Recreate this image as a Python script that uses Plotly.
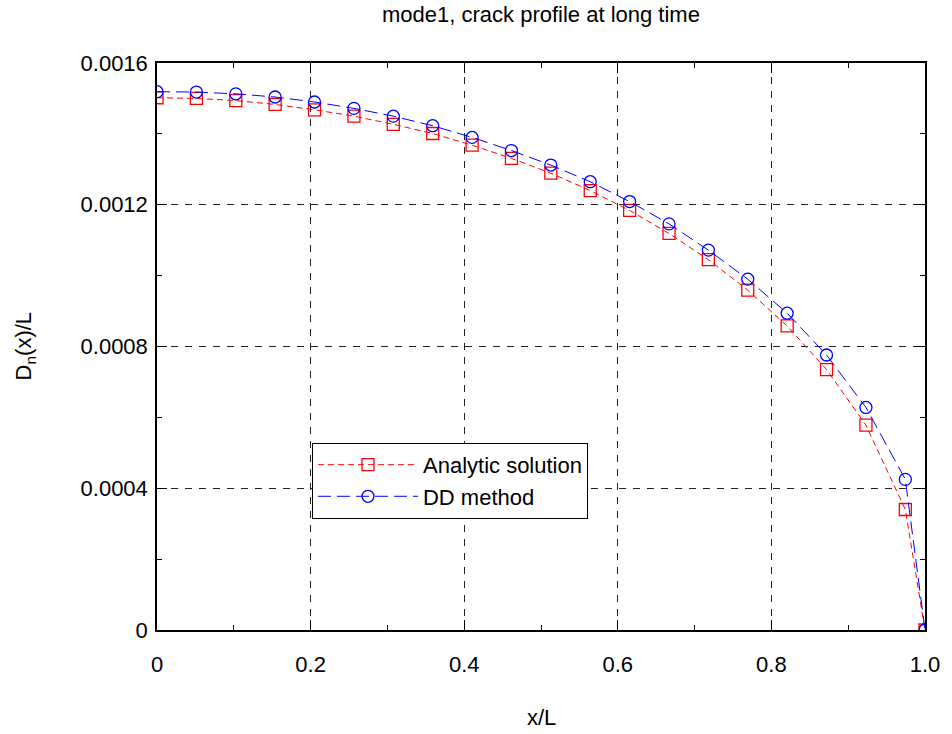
import plotly.graph_objects as go

# positions along the crack, x/L
x_over_l = [0.0, 0.0513, 0.1026, 0.1538, 0.2051, 0.2564, 0.3077, 0.3590, 0.4103,
            0.4615, 0.5128, 0.5641, 0.6154, 0.6667, 0.7179, 0.7692, 0.8205,
            0.8718, 0.9231, 0.9744, 1.0]

# opening displacement Dn(x)/L
analytic = [0.001502, 0.001500, 0.001494, 0.001483, 0.001468, 0.001450, 0.001427,
            0.001401, 0.001368, 0.001331, 0.001289, 0.001240, 0.001184, 0.001119,
            0.001045, 0.000959, 0.000858, 0.000735, 0.000578, 0.000340, 0.0]
dd_method = [0.001519, 0.001518, 0.001513, 0.001504, 0.001490, 0.001472, 0.001450,
             0.001423, 0.001390, 0.001353, 0.001312, 0.001265, 0.001209, 0.001146,
             0.001072, 0.000990, 0.000894, 0.000776, 0.000628, 0.000425, 0.0]

x_ticks = [0, 0.2, 0.4, 0.6, 0.8, 1.0]
x_labels = ["0", "0.2", "0.4", "0.6", "0.8", "1.0"]
y_ticks = [0, 0.0004, 0.0008, 0.0012, 0.0016]
y_labels = ["0", "0.0004", "0.0008", "0.0012", "0.0016"]

FONT = "Liberation Sans, Arial, sans-serif"

fig = go.Figure()

fig.add_trace(go.Scatter(
    x=x_over_l, y=analytic, mode="lines+markers", name="Analytic solution",
    line=dict(color="#ff0000", width=1, dash="6px,4px"),
    marker=dict(symbol="square-open", size=12, color="#ff0000", line=dict(width=1.3)),
))
fig.add_trace(go.Scatter(
    x=x_over_l, y=dd_method, mode="lines+markers", name="DD method",
    line=dict(color="#0000ff", width=1, dash="13px,6px"),
    marker=dict(symbol="circle-open", size=12, color="#0000ff", line=dict(width=1.3)),
))

axis_common = dict(
    showline=True, linecolor="black", linewidth=1.5, mirror="ticks",
    ticks="inside", ticklen=10, tickcolor="black", tickwidth=1,
    showgrid=True, gridcolor="#222222", gridwidth=1, griddash="7px,7px",
    zeroline=False, tickfont=dict(family=FONT, size=22, color="black"),
)

fig.update_xaxes(
    range=[0, 1], tickvals=x_ticks, ticktext=x_labels, ticklabelstandoff=14,
    minor=dict(dtick=0.1, ticks="inside", ticklen=5, tickcolor="black", showgrid=False),
    **axis_common,
)
fig.update_yaxes(
    range=[0, 0.0016], tickvals=y_ticks, ticktext=y_labels, ticklabelstandoff=3,
    minor=dict(dtick=0.0002, ticks="inside", ticklen=5, tickcolor="black", showgrid=False),
    **axis_common,
)

fig.add_annotation(text="mode1, crack profile at long time", xref="paper", yref="paper",
                   x=0.5, y=1.085, xanchor="center", yanchor="middle", showarrow=False,
                   font=dict(family=FONT, size=22, color="black"))
fig.add_annotation(text="x/L", xref="paper", yref="paper", x=0.5, y=-0.155,
                   xanchor="center", yanchor="middle", showarrow=False,
                   font=dict(family=FONT, size=22, color="black"))
fig.add_annotation(text="D<sub>n</sub>(x)/L", xref="paper", yref="paper", x=-0.172, y=0.5,
                   xanchor="center", yanchor="middle", textangle=-90, showarrow=False,
                   font=dict(family=FONT, size=22, color="black"))

fig.update_layout(
    width=952, height=734,
    margin=dict(l=157, r=17, t=63, b=104),
    paper_bgcolor="white", plot_bgcolor="white",
    showlegend=True,
    legend=dict(x=0.2018, y=0.33, xanchor="left", yanchor="top",
                bgcolor="white", bordercolor="black", borderwidth=1,
                itemwidth=100, font=dict(family=FONT, size=22, color="black"),
                tracegroupgap=0),
)

# the page body has a default 8px margin; drop it so the figure sits at the corner
fig.write_html("out.html", config={"displayModeBar": False},
               post_script="document.body.style.margin='0';")
